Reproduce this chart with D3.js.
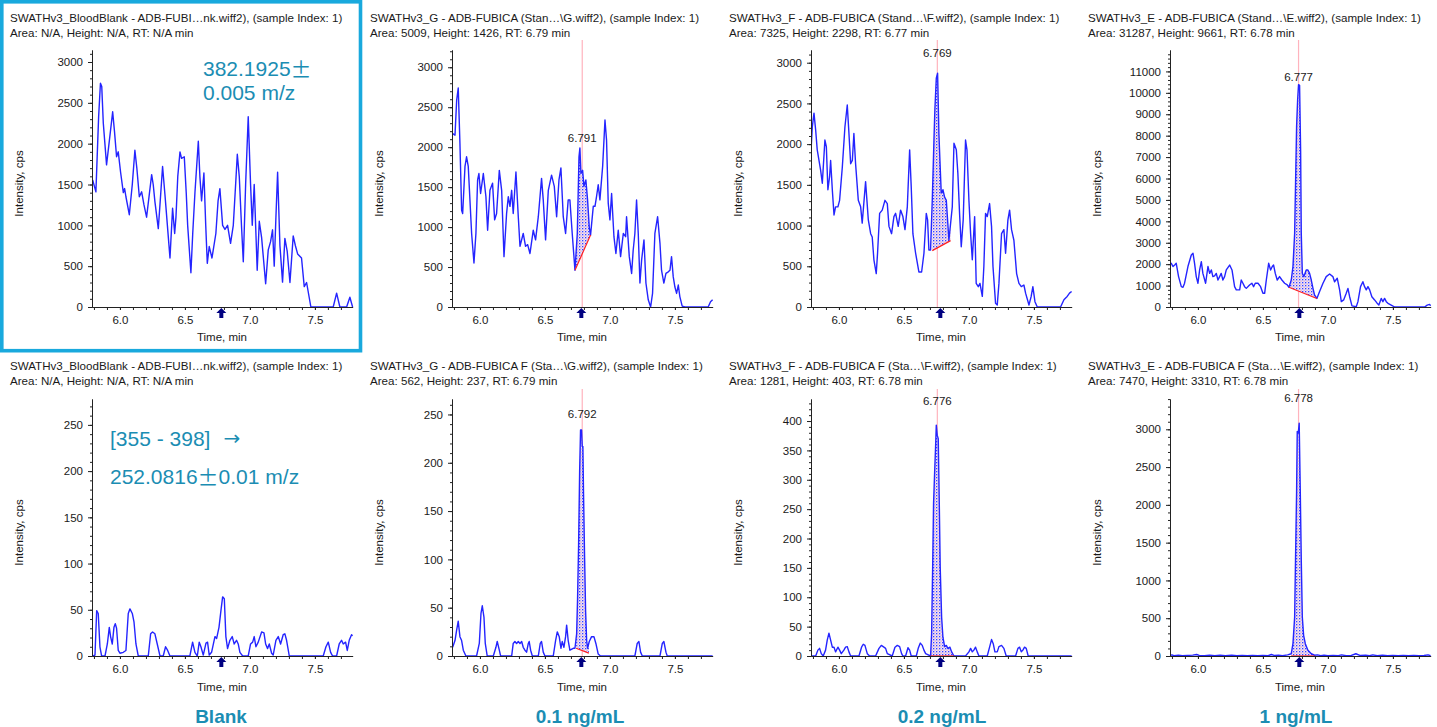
<!DOCTYPE html>
<html><head><meta charset="utf-8">
<script src="https://cdn.jsdelivr.net/npm/d3@7"></script>
<style>
body{margin:0;background:#fff}
svg{display:block}
text{font-family:"Liberation Sans",Arial,sans-serif}
</style>
</head><body>
<svg id="c" width="1437" height="727"></svg>
<script>
// ---------------- data ----------------
const headerLine1 = [
  "SWATHv3_BloodBlank - ADB-FUBI\u2026nk.wiff2), (sample Index: 1)",
  "SWATHv3_G - ADB-FUBICA (Stan\u2026\\G.wiff2), (sample Index: 1)",
  "SWATHv3_F - ADB-FUBICA (Stand\u2026\\F.wiff2), (sample Index: 1)",
  "SWATHv3_E - ADB-FUBICA (Stand\u2026\\E.wiff2), (sample Index: 1)",
  "SWATHv3_BloodBlank - ADB-FUBI\u2026nk.wiff2), (sample Index: 1)",
  "SWATHv3_G - ADB-FUBICA F (Sta\u2026\\G.wiff2), (sample Index: 1)",
  "SWATHv3_F - ADB-FUBICA F (Sta\u2026\\F.wiff2), (sample Index: 1)",
  "SWATHv3_E - ADB-FUBICA F (Sta\u2026\\E.wiff2), (sample Index: 1)"
];
const headerLine2 = [
  "Area: N/A, Height: N/A, RT: N/A min",
  "Area: 5009, Height: 1426, RT: 6.79 min",
  "Area: 7325, Height: 2298, RT: 6.77 min",
  "Area: 31287, Height: 9661, RT: 6.78 min",
  "Area: N/A, Height: N/A, RT: N/A min",
  "Area: 562, Height: 237, RT: 6.79 min",
  "Area: 1281, Height: 403, RT: 6.78 min",
  "Area: 7470, Height: 3310, RT: 6.78 min"
];
const conditions = ["Blank", "0.1 ng/mL", "0.2 ng/mL", "1 ng/mL"];
const xDomain = [5.785, 7.79];
const xMajorTicks = [6.0, 6.5, 7.0, 7.5];
const yMax = [3147, 3216, 3156, 12000, 278, 266, 437.5, 3401];
const yTickStep = [500, 500, 500, 1000, 50, 50, 50, 500];
const yTickTop = [3000, 3000, 3000, 11000, 250, 250, 400, 3000];
const peakLabels = [null, "6.791", "6.769", "6.777", null, "6.792", "6.776", "6.778"];
const peakLineRT = [null, 6.787, 6.757, 6.774, null, 6.787, 6.757, 6.774];
const peakLabelIntensity = [null, 2112, 3119, 10752, null, 250, 434, 3412];
const expectedRT = [6.78, 6.78, 6.78, 6.78, 6.78, 6.78, 6.78, 6.78];
const baselines = [
  null,
  [[6.731, 460], [6.851, 900]],
  [[6.718, 692], [6.859, 815]],
  [[6.700, 920], [6.915, 400]],
  null,
  [[6.740, 8], [6.838, 3]],
  [[6.705, 0], [6.885, 0]],
  [[6.718, 0], [6.897, 0]]
];
const annotTopMass = "382.1925";
const annotTopTol = "0.005 m/z";
const annotBottomRange = "[355 - 398]";
const annotBottomMass = "252.0816";
const annotBottomTol = "0.01 m/z";

const trace1 = [[5.790,1555],[5.815,1410],[5.836,2330],[5.850,2740],[5.860,2700],[5.872,2250],[5.897,1740],[5.913,1960],[5.944,2390],[5.958,2150],[5.974,1840],[5.987,1900],[6.005,1650],[6.026,1400],[6.036,1450],[6.046,1350],[6.072,1130],[6.095,1500],[6.115,1920],[6.130,1700],[6.149,1350],[6.167,1410],[6.185,1250],[6.205,1100],[6.244,1620],[6.256,1500],[6.269,1290],[6.295,960],[6.310,1300],[6.328,1720],[6.346,1380],[6.365,1000],[6.385,600],[6.405,1210],[6.421,900],[6.431,1100],[6.445,1600],[6.462,1900],[6.474,1820],[6.495,1840],[6.510,1400],[6.521,1000],[6.546,420],[6.560,900],[6.577,1400],[6.603,2030],[6.615,1600],[6.628,1300],[6.646,1640],[6.660,1000],[6.672,535],[6.687,740],[6.708,600],[6.738,900],[6.755,1300],[6.769,1450],[6.790,1000],[6.808,950],[6.828,1000],[6.851,780],[6.872,1000],[6.890,1500],[6.903,1870],[6.918,1600],[6.935,1000],[6.949,555],[6.967,1500],[6.987,2330],[7.005,1500],[7.018,1000],[7.033,1500],[7.056,450],[7.072,1050],[7.090,850],[7.121,285],[7.141,700],[7.159,800],[7.174,945],[7.187,500],[7.200,1100],[7.213,1650],[7.231,750],[7.251,305],[7.269,840],[7.287,680],[7.308,300],[7.333,870],[7.350,750],[7.367,650],[7.397,600],[7.418,250],[7.436,300],[7.469,0],[7.641,0],[7.667,170],[7.692,0],[7.744,0],[7.769,120],[7.790,0]];
const trace2 = [[5.790,2170],[5.808,2150],[5.821,2590],[5.833,2740],[5.846,2050],[5.859,1210],[5.867,1170],[5.885,1760],[5.897,1880],[5.910,1760],[5.936,920],[5.954,550],[5.969,920],[5.982,1590],[5.992,1670],[6.005,1420],[6.026,1670],[6.046,1380],[6.059,960],[6.077,1460],[6.097,1550],[6.113,1090],[6.128,1170],[6.149,1710],[6.167,1460],[6.185,630],[6.205,1170],[6.218,1380],[6.231,1260],[6.244,1460],[6.256,1170],[6.277,1690],[6.295,1130],[6.308,760],[6.333,920],[6.351,760],[6.367,780],[6.385,670],[6.410,960],[6.428,840],[6.449,1130],[6.474,1610],[6.487,1340],[6.505,840],[6.526,1460],[6.551,1650],[6.572,1510],[6.590,1130],[6.608,1590],[6.623,1740],[6.641,1130],[6.659,920],[6.679,1340],[6.692,1340],[6.710,920],[6.731,460],[6.749,920],[6.762,1880],[6.769,1990],[6.777,1670],[6.790,1710],[6.800,1510],[6.815,1590],[6.828,1340],[6.841,1000],[6.851,900],[6.872,1260],[6.885,1260],[6.897,1380],[6.910,1530],[6.923,1340],[6.944,1760],[6.962,2340],[6.974,2090],[6.987,1300],[7.000,1090],[7.013,1420],[7.031,880],[7.046,670],[7.064,960],[7.082,630],[7.103,920],[7.121,880],[7.128,1130],[7.149,630],[7.167,420],[7.179,710],[7.192,920],[7.205,1340],[7.218,920],[7.231,300],[7.244,590],[7.262,840],[7.277,300],[7.295,90],[7.313,0],[7.328,170],[7.346,920],[7.367,1130],[7.385,800],[7.397,460],[7.415,300],[7.431,420],[7.449,440],[7.462,460],[7.474,630],[7.487,380],[7.500,250],[7.513,170],[7.526,275],[7.538,130],[7.556,10],[7.577,0],[7.756,0],[7.774,65],[7.790,90]];
const trace3 = [[5.785,1910],[5.795,2210],[5.808,2380],[5.821,2170],[5.833,1930],[5.859,1680],[5.872,1520],[5.892,2050],[5.903,1970],[5.915,1440],[5.928,1600],[5.936,1800],[5.949,1440],[5.962,1130],[5.974,1230],[5.992,1230],[6.005,1310],[6.026,1720],[6.046,2210],[6.064,2480],[6.077,2130],[6.090,1760],[6.103,1800],[6.115,2130],[6.128,1760],[6.149,1310],[6.167,1230],[6.179,1030],[6.205,1540],[6.226,1070],[6.244,900],[6.256,860],[6.269,580],[6.287,410],[6.297,660],[6.313,1150],[6.333,1190],[6.354,1310],[6.372,1270],[6.385,990],[6.405,900],[6.423,1110],[6.436,1150],[6.456,990],[6.474,1190],[6.492,1110],[6.508,950],[6.526,1230],[6.544,1930],[6.556,1480],[6.569,900],[6.590,660],[6.615,430],[6.636,430],[6.654,660],[6.672,1150],[6.682,1070],[6.692,700],[6.705,700],[6.718,1310],[6.731,2050],[6.738,2420],[6.749,2810],[6.759,2870],[6.769,2130],[6.777,1800],[6.787,1400],[6.800,1440],[6.813,1350],[6.826,1310],[6.846,820],[6.872,1230],[6.885,2010],[6.903,1930],[6.915,1640],[6.928,1150],[6.941,740],[6.956,1070],[6.974,2050],[6.985,1930],[7.000,1310],[7.013,900],[7.026,580],[7.044,1110],[7.056,290],[7.072,250],[7.085,290],[7.103,130],[7.115,500],[7.128,1150],[7.141,1110],[7.159,1270],[7.174,990],[7.185,500],[7.205,45],[7.218,25],[7.231,290],[7.251,900],[7.269,950],[7.282,660],[7.300,1070],[7.313,1190],[7.328,950],[7.346,820],[7.367,410],[7.385,290],[7.403,250],[7.423,270],[7.436,170],[7.462,25],[7.479,130],[7.492,250],[7.508,65],[7.526,0],[7.705,0],[7.731,90],[7.756,130],[7.774,170],[7.790,190]];
const trace4 = [[5.785,2000],[5.795,2040],[5.808,1890],[5.821,1960],[5.833,2040],[5.851,1420],[5.872,950],[5.885,920],[5.897,1110],[5.923,1890],[5.949,2430],[5.962,2510],[5.974,2040],[5.987,1420],[6.000,1110],[6.013,1730],[6.026,2120],[6.038,1570],[6.059,1110],[6.077,1890],[6.090,1570],[6.103,1730],[6.115,1420],[6.128,1450],[6.141,1570],[6.154,1260],[6.167,1420],[6.179,1570],[6.192,1260],[6.205,1420],[6.218,1730],[6.244,1960],[6.262,1730],[6.282,950],[6.295,800],[6.321,800],[6.333,1260],[6.346,1110],[6.359,950],[6.372,870],[6.397,1030],[6.415,1110],[6.428,950],[6.441,1110],[6.462,1110],[6.482,950],[6.500,640],[6.513,640],[6.526,1260],[6.544,2040],[6.559,1730],[6.572,1890],[6.582,1960],[6.595,1570],[6.610,1260],[6.628,1420],[6.646,1260],[6.667,1110],[6.687,1030],[6.700,920],[6.718,1260],[6.731,1890],[6.744,3440],[6.751,5780],[6.759,8430],[6.767,9680],[6.774,10380],[6.782,10350],[6.790,7320],[6.795,3440],[6.803,1570],[6.815,1420],[6.833,1730],[6.846,1730],[6.859,1570],[6.872,1260],[6.885,870],[6.897,560],[6.915,400],[6.936,720],[6.962,1110],[6.987,1420],[7.013,1540],[7.038,1420],[7.051,1180],[7.072,1340],[7.090,800],[7.103,250],[7.121,330],[7.141,640],[7.154,870],[7.167,480],[7.185,50],[7.218,15],[7.231,250],[7.251,950],[7.269,1180],[7.282,950],[7.295,800],[7.308,950],[7.321,800],[7.338,480],[7.359,330],[7.377,190],[7.392,90],[7.410,400],[7.423,250],[7.436,400],[7.449,250],[7.462,170],[7.487,90],[7.513,0],[7.744,0],[7.764,90],[7.782,120],[7.790,60]];
const trace5 = [[5.790,0],[5.808,1],[5.821,49],[5.833,46],[5.846,10],[5.859,0],[5.885,0],[5.903,13],[5.918,31],[5.928,21],[5.941,13],[5.954,31],[5.964,35],[5.974,30],[5.987,6],[6.000,3],[6.026,4],[6.046,6],[6.064,46],[6.077,51],[6.095,46],[6.108,37],[6.123,13],[6.141,0],[6.218,0],[6.236,24],[6.251,26],[6.269,24],[6.287,13],[6.308,0],[6.333,0],[6.351,10],[6.367,6],[6.385,0],[6.538,0],[6.559,15],[6.577,4],[6.595,0],[6.610,15],[6.623,10],[6.641,1],[6.662,14],[6.674,15],[6.687,1],[6.705,4],[6.731,21],[6.744,19],[6.762,31],[6.777,49],[6.790,64],[6.803,62],[6.815,21],[6.828,8],[6.846,17],[6.864,21],[6.879,13],[6.897,17],[6.910,13],[6.923,4],[6.944,0],[6.987,0],[7.005,13],[7.021,15],[7.033,21],[7.046,10],[7.064,15],[7.090,26],[7.108,25],[7.121,13],[7.136,8],[7.149,13],[7.167,3],[7.179,1],[7.200,17],[7.218,21],[7.236,13],[7.256,23],[7.269,24],[7.282,17],[7.303,0],[7.564,0],[7.585,10],[7.603,15],[7.621,4],[7.636,0],[7.667,0],[7.687,13],[7.705,17],[7.718,13],[7.736,15],[7.749,6],[7.764,17],[7.782,23],[7.790,22]];
const trace6 = [[5.790,9],[5.808,16],[5.821,27],[5.833,36],[5.846,20],[5.859,16],[5.872,6],[5.892,0],[5.974,0],[5.995,13],[6.008,44],[6.018,52],[6.031,40],[6.041,13],[6.056,0],[6.103,0],[6.123,9],[6.133,15],[6.149,6],[6.159,0],[6.244,0],[6.256,13],[6.269,15],[6.282,13],[6.295,15],[6.308,13],[6.321,15],[6.333,9],[6.346,6],[6.359,4],[6.372,13],[6.379,15],[6.390,6],[6.403,0],[6.449,0],[6.464,13],[6.474,15],[6.487,4],[6.500,0],[6.564,0],[6.582,16],[6.595,25],[6.610,20],[6.623,8],[6.633,15],[6.646,9],[6.659,20],[6.667,32],[6.679,16],[6.692,6],[6.718,8],[6.731,8],[6.744,23],[6.751,59],[6.759,115],[6.767,191],[6.774,234],[6.782,234],[6.787,217],[6.792,217],[6.797,168],[6.805,103],[6.813,46],[6.821,16],[6.828,8],[6.841,15],[6.859,20],[6.877,20],[6.892,13],[6.910,2],[6.928,0],[7.192,0],[7.210,13],[7.223,15],[7.236,4],[7.249,0],[7.385,0],[7.403,13],[7.415,15],[7.431,4],[7.441,0],[7.790,0]];
const trace7 = [[5.785,0],[5.821,0],[5.838,10],[5.851,13],[5.864,4],[5.879,0],[5.897,10],[5.910,27],[5.923,39],[5.936,27],[5.949,15],[5.962,15],[5.974,7],[5.992,15],[6.005,10],[6.018,4],[6.038,10],[6.051,15],[6.064,16],[6.077,7],[6.090,0],[6.154,0],[6.174,15],[6.187,20],[6.200,18],[6.218,4],[6.236,0],[6.282,0],[6.308,13],[6.326,18],[6.346,15],[6.359,13],[6.372,4],[6.410,0],[6.431,15],[6.449,18],[6.467,16],[6.482,4],[6.492,0],[6.513,0],[6.531,14],[6.544,10],[6.556,0],[6.595,0],[6.610,13],[6.626,22],[6.641,18],[6.654,10],[6.667,4],[6.687,2],[6.705,0],[6.713,38],[6.721,152],[6.728,260],[6.736,311],[6.744,359],[6.749,393],[6.756,376],[6.764,370],[6.772,260],[6.779,152],[6.790,66],[6.800,32],[6.813,16],[6.826,18],[6.838,13],[6.854,15],[6.867,7],[6.885,0],[6.974,0],[7.000,7],[7.013,13],[7.026,7],[7.038,10],[7.051,15],[7.064,7],[7.077,0],[7.141,0],[7.159,15],[7.174,28],[7.187,21],[7.200,7],[7.218,7],[7.231,16],[7.251,18],[7.269,13],[7.287,0],[7.359,0],[7.377,13],[7.390,15],[7.403,7],[7.415,10],[7.428,15],[7.441,13],[7.456,0],[7.790,0]];
const trace8 = [[5.785,5],[5.800,15],[5.815,5],[5.850,10],[5.880,5],[5.920,8],[5.960,12],[5.990,20],[6.010,8],[6.050,5],[6.090,10],[6.130,5],[6.170,12],[6.210,5],[6.260,10],[6.300,4],[6.340,8],[6.380,3],[6.420,6],[6.460,3],[6.500,8],[6.540,3],[6.565,20],[6.590,6],[6.620,12],[6.650,4],[6.690,15],[6.718,30],[6.731,163],[6.744,517],[6.751,1310],[6.759,2170],[6.764,2970],[6.772,2950],[6.779,3080],[6.787,2220],[6.795,1270],[6.803,517],[6.813,274],[6.826,163],[6.846,75],[6.872,30],[6.897,10],[6.920,15],[6.945,5],[6.970,12],[7.000,4],[7.040,8],[7.080,5],[7.105,15],[7.140,4],[7.180,8],[7.215,30],[7.250,6],[7.290,10],[7.320,4],[7.345,15],[7.380,4],[7.420,10],[7.460,5],[7.500,8],[7.540,3],[7.580,8],[7.620,4],[7.660,6],[7.700,3],[7.740,6],[7.770,15],[7.790,4]];
const traces = [trace1, trace2, trace3, trace4, trace5, trace6, trace7, trace8];

// ---------------- layout ----------------
const colX = [0, 360, 719, 1078];
const rows = [
  {top: 50, bottom: 307, h1: 17, h2: 32, lineTop: 40, xTitle: 337},
  {top: 399, bottom: 656, h1: 365, h2: 380, lineTop: 389, xTitle: 687}
];
const TEAL = "#1b8db3";
const BLUE = "#2424ff";
const INK = "#1a1a1a";
const svg = d3.select("#c");

const defs = svg.append("defs");
const pat = defs.append("pattern").attr("id", "hatch").attr("width", 3).attr("height", 3)
  .attr("patternUnits", "userSpaceOnUse");
pat.append("rect").attr("width", 3).attr("height", 3).attr("fill", "#e8e8ff");
pat.append("rect").attr("x", 0).attr("y", 0).attr("width", 1.3).attr("height", 1.3).attr("fill", "#3c3cff");
pat.append("rect").attr("x", 1.5).attr("y", 1.5).attr("width", 1.2).attr("height", 1.2).attr("fill", "#e890b0");

function interp(tr, t) {
  for (let i = 0; i < tr.length - 1; i++) {
    if (tr[i][0] <= t && t <= tr[i + 1][0]) {
      const f = (t - tr[i][0]) / (tr[i + 1][0] - tr[i][0]);
      return tr[i][1] + f * (tr[i + 1][1] - tr[i][1]);
    }
  }
  return 0;
}

for (let p = 0; p < 8; p++) {
  const r = rows[Math.floor(p / 4)];
  const cx = colX[p % 4];
  const x = d3.scaleLinear().domain(xDomain).range([cx + 92, cx + 352.6]);
  const y = d3.scaleLinear().domain([0, yMax[p]]).range([r.bottom, r.top]);
  const g = svg.append("g");

  // headers
  g.append("text").attr("x", cx + 10).attr("y", r.h1).attr("dominant-baseline", "central")
    .attr("font-size", 11.6).attr("fill", INK).text(headerLine1[p]);
  g.append("text").attr("x", cx + 10).attr("y", r.h2).attr("dominant-baseline", "central")
    .attr("font-size", 11.6).attr("fill", INK).text(headerLine2[p]);

  // clip
  const cid = "clip" + p;
  defs.append("clipPath").attr("id", cid).append("rect")
    .attr("x", cx + 92).attr("y", r.lineTop - 5).attr("width", 262).attr("height", r.bottom - r.lineTop + 5);

  // peak marker line
  if (peakLineRT[p] !== null) {
    g.append("line").attr("x1", x(peakLineRT[p])).attr("x2", x(peakLineRT[p]))
      .attr("y1", r.lineTop).attr("y2", r.bottom).attr("stroke", "#ffb3bd").attr("stroke-width", 1.2);
  }

  // integrated area
  const tr = traces[p];
  if (baselines[p]) {
    const [[t0, b0], [t1, b1]] = baselines[p];
    const base = t => b0 + (b1 - b0) * (t - t0) / (t1 - t0);
    const pts = [[t0, interp(tr, t0)]].concat(tr.filter(d => d[0] > t0 && d[0] < t1)).concat([[t1, interp(tr, t1)]]);
    g.append("path").datum(pts).attr("clip-path", `url(#${cid})`)
      .attr("d", d3.area().x(d => x(d[0])).y0(d => y(base(d[0]))).y1(d => y(Math.max(d[1], base(d[0])))))
      .attr("fill", "url(#hatch)").attr("stroke", "none");
  }

  // trace
  g.append("path").datum(tr).attr("clip-path", `url(#${cid})`)
    .attr("d", d3.line().x(d => x(d[0])).y(d => y(d[1])))
    .attr("fill", "none").attr("stroke", BLUE).attr("stroke-width", 1.4).attr("stroke-linejoin", "round");

  // baseline
  if (baselines[p]) {
    const [[t0, b0], [t1, b1]] = baselines[p];
    g.append("line").attr("x1", x(t0)).attr("y1", y(b0)).attr("x2", x(t1)).attr("y2", y(b1))
      .attr("stroke", "#ff2020").attr("stroke-width", 1.2);
  }

  // peak label
  if (peakLabels[p]) {
    g.append("text").attr("x", x(peakLineRT[p])).attr("y", y(peakLabelIntensity[p]))
      .attr("text-anchor", "middle").attr("dominant-baseline", "central")
      .attr("font-size", 11.5).attr("fill", INK).text(peakLabels[p]);
  }

  // y axis
  const yMajor = d3.range(0, yTickTop[p] + 1e-9, yTickStep[p]);
  const yMinor = d3.range(0, yMax[p], yTickStep[p] / 5);
  const ya = g.append("g").attr("transform", `translate(${cx + 92},0)`);
  ya.call(d3.axisLeft(y).tickValues(yMinor).tickSize(2).tickSizeOuter(0).tickFormat(""));
  ya.append("g").call(d3.axisLeft(y).tickValues(yMajor).tickSize(4).tickSizeOuter(0).tickPadding(5).tickFormat(d3.format("d")));
  ya.selectAll("text").attr("font-size", 11.5).attr("fill", INK).attr("font-family", "Liberation Sans, Arial, sans-serif");
  ya.selectAll("line").attr("stroke", "#222");
  ya.selectAll(".domain").attr("stroke", "#222");

  // x axis
  const xMinor = d3.range(5.8, 7.8, 0.1);
  const xa = g.append("g").attr("transform", `translate(0,${r.bottom})`);
  xa.call(d3.axisBottom(x).tickValues(xMinor).tickSize(3).tickSizeOuter(0).tickFormat(""));
  xa.append("g").call(d3.axisBottom(x).tickValues(xMajorTicks).tickSize(3).tickSizeOuter(0).tickPadding(6).tickFormat(d3.format(".1f")));
  xa.selectAll("text").attr("font-size", 11.5).attr("fill", INK).attr("font-family", "Liberation Sans, Arial, sans-serif");
  xa.selectAll("line").attr("stroke", "#222");
  xa.selectAll(".domain").attr("stroke", "#222");

  // expected RT arrow
  const ax = x(expectedRT[p]), ay = r.bottom + 1;
  g.append("path").attr("d", `M${ax},${ay} L${ax + 5},${ay + 5} L${ax + 2},${ay + 5} L${ax + 2},${ay + 10} L${ax - 2},${ay + 10} L${ax - 2},${ay + 5} L${ax - 5},${ay + 5} Z`)
    .attr("fill", "#000080");

  // axis titles
  g.append("text").attr("x", cx + 222).attr("y", r.xTitle).attr("text-anchor", "middle")
    .attr("dominant-baseline", "central").attr("font-size", 11.5).attr("fill", INK).text("Time, min");
  g.append("text").attr("transform", `translate(${cx + 19},${(r.top + r.bottom) / 2 + 5}) rotate(-90)`)
    .attr("text-anchor", "middle").attr("dominant-baseline", "central")
    .attr("font-size", 11.5).attr("fill", INK).text("Intensity, cps");
}

// annotations
const PM_FONT = "Noto Sans CJK SC, DejaVu Sans, sans-serif";
const t1 = svg.append("text").attr("x", 203).attr("y", 68).attr("dominant-baseline", "central")
  .attr("font-size", 21).attr("fill", TEAL);
t1.append("tspan").text(annotTopMass);
t1.append("tspan").attr("font-family", PM_FONT).text("\u00b1");
svg.append("text").attr("x", 203).attr("y", 92).attr("dominant-baseline", "central")
  .attr("font-size", 21).attr("fill", TEAL).text(annotTopTol);

const t3 = svg.append("text").attr("x", 110).attr("y", 438).attr("dominant-baseline", "central")
  .attr("font-size", 21).attr("fill", TEAL);
t3.append("tspan").text(annotBottomRange);
t3.append("tspan").attr("dx", 13).attr("font-family", "DejaVu Sans, sans-serif").attr("font-size", 20).text("\u2192");
const t4 = svg.append("text").attr("x", 110).attr("y", 476).attr("dominant-baseline", "central")
  .attr("font-size", 21).attr("fill", TEAL);
t4.append("tspan").text(annotBottomMass);
t4.append("tspan").attr("font-family", PM_FONT).text("\u00b1");
t4.append("tspan").text(annotBottomTol);

// condition labels
const condX = [221, 580, 942, 1296];
conditions.forEach((c, i) => {
  svg.append("text").attr("x", condX[i]).attr("y", 716).attr("text-anchor", "middle")
    .attr("dominant-baseline", "central").attr("font-size", 19).attr("font-weight", "bold")
    .attr("fill", TEAL).text(c);
});

// highlight box around blank top panel
svg.append("rect").attr("x", 1.8).attr("y", 1.8).attr("width", 358.7).attr("height", 348.9)
  .attr("fill", "none").attr("stroke", "#19a9dd").attr("stroke-width", 3.6);
</script>
</body></html>
